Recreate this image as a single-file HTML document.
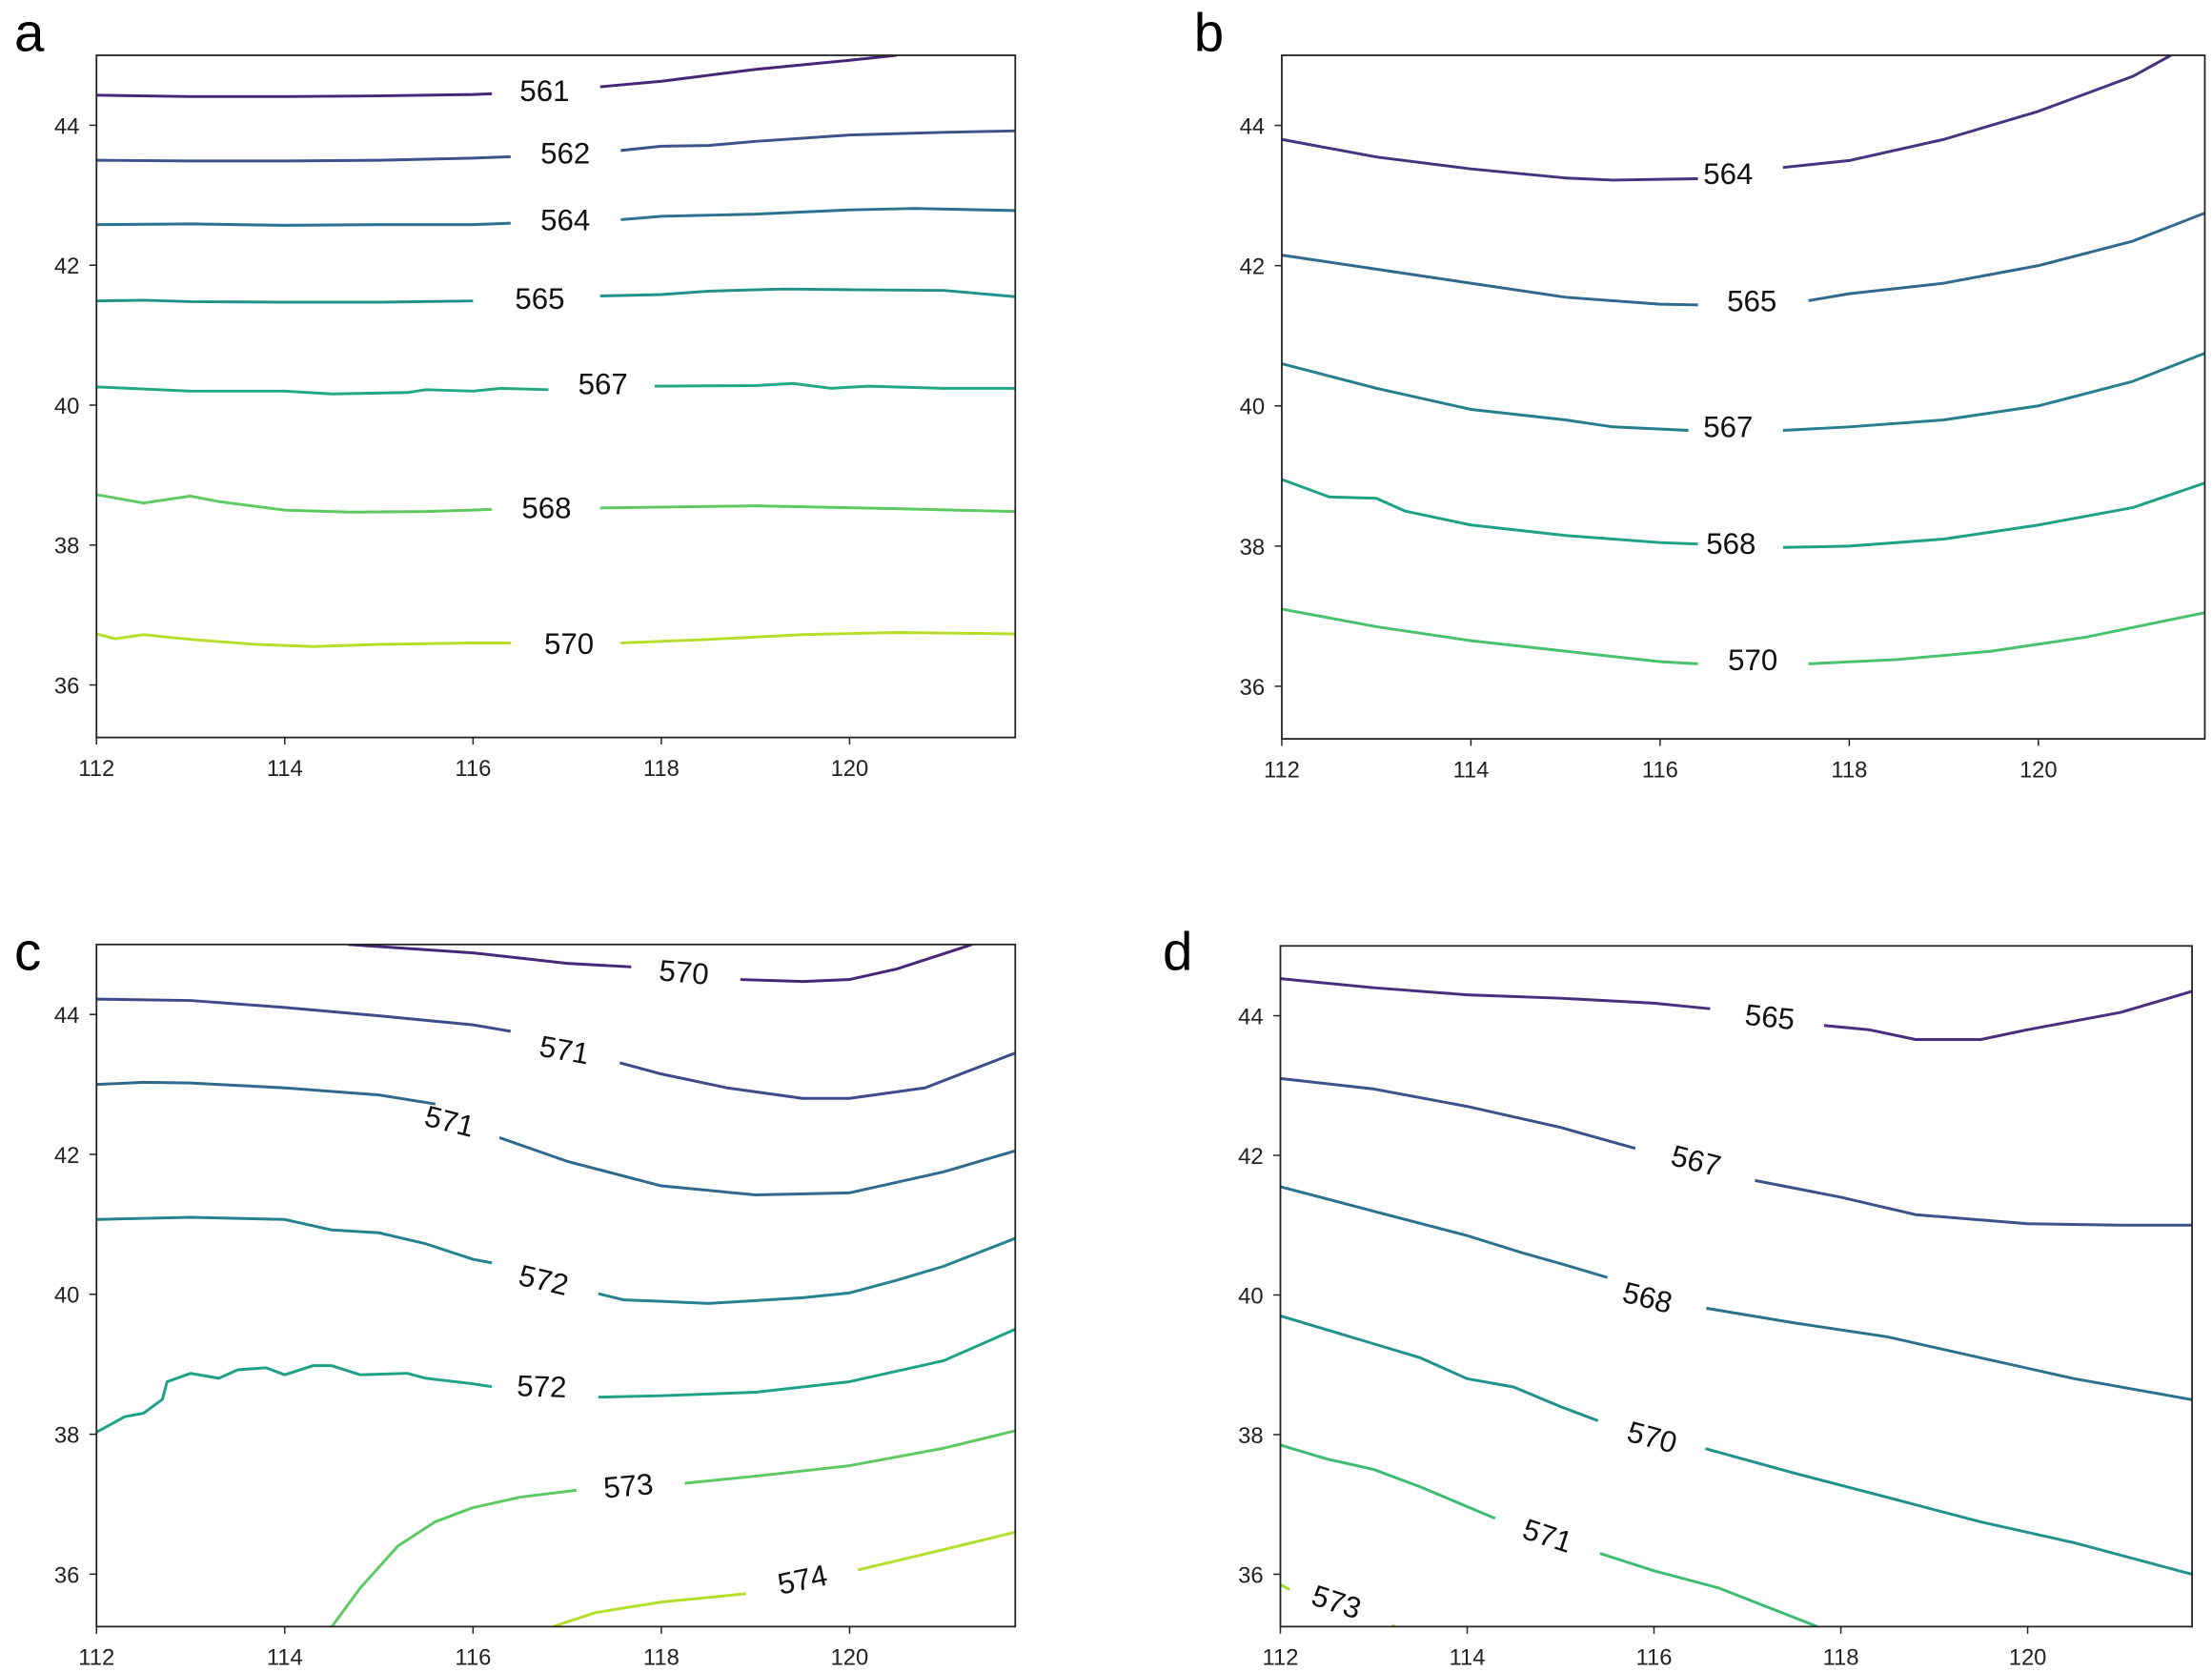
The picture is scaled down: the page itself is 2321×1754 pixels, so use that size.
<!DOCTYPE html>
<html><head><meta charset="utf-8"><style>
html,body{margin:0;padding:0;background:#fff;}
svg{display:block;}
text{font-family:"Liberation Sans","DejaVu Sans",sans-serif;}
</style></head><body>
<svg id="fig" width="2321" height="1754" viewBox="0 0 1560 1179" xmlns="http://www.w3.org/2000/svg"></svg>
<script>
// Data domain shared by all panels
const lonTicks = [112, 114, 116, 118, 120];
const latTicks = [36, 38, 40, 42, 44];
const lonRange = [112, 121.76];
const latRange = [35.25, 45];

const aLevels = [561, 562, 564, 565, 567, 568, 570];
const aLeft = [
 [[112,44.43],[113,44.41],[114,44.41],[115,44.42],[116,44.44],[116.2,44.45]],
 [[112,43.5],[113,43.49],[114,43.49],[115,43.5],[116,43.53],[116.4,43.55]],
 [[112,42.58],[113,42.59],[114,42.57],[115,42.58],[116,42.58],[116.4,42.6]],
 [[112,41.49],[112.5,41.5],[113,41.48],[114,41.47],[115,41.47],[116,41.49]],
 [[112,40.26],[113,40.2],[114,40.2],[114.5,40.16],[115.3,40.18],[115.5,40.22],[116,40.2],[116.3,40.24],[116.8,40.22]],
 [[112,38.72],[112.5,38.6],[113,38.7],[113.3,38.62],[114,38.5],[114.7,38.47],[115.5,38.48],[116.2,38.51]],
 [[112,36.73],[112.2,36.66],[112.5,36.72],[113,36.65],[113.7,36.58],[114.3,36.55],[115,36.58],[116,36.6],[116.4,36.6]]
];
const aRight = [
 [[117.35,44.55],[118,44.63],[119,44.8],[120,44.93],[120.5,45.0]],
 [[117.57,43.64],[118,43.7],[118.5,43.71],[119,43.77],[120,43.86],[121,43.9],[121.76,43.92]],
 [[117.57,42.65],[118,42.7],[119,42.73],[120,42.79],[120.7,42.81],[121.76,42.78]],
 [[117.35,41.56],[118,41.58],[118.5,41.63],[119.3,41.66],[120,41.65],[121,41.64],[121.76,41.55]],
 [[117.93,40.27],[119,40.28],[119.4,40.31],[119.8,40.24],[120.2,40.27],[121,40.24],[121.76,40.24]],
 [[117.35,38.53],[119,38.56],[120.5,38.52],[121.76,38.48]],
 [[117.57,36.6],[118.5,36.65],[119.5,36.72],[120.5,36.75],[121.76,36.73]]
];
const aLabels = [[116.76,44.49],[116.98,43.6],[116.98,42.64],[116.71,41.52],[117.38,40.3],[116.78,38.53],[117.02,36.59]];
const aAngles = [0,0,0,0,0,0,0];
const aColors = ["#482677","#3b528b","#2c728e","#21918c","#22a884","#5ec962","#b5de2b"];

const bLevels = [564, 565, 567, 568, 570];
const bLeft = [
 [[112,43.8],[113,43.55],[114,43.38],[115,43.25],[115.5,43.22],[116.4,43.24]],
 [[112,42.15],[113,41.95],[114,41.75],[115,41.55],[116,41.45],[116.4,41.44]],
 [[112,40.6],[113,40.25],[114,39.95],[115,39.8],[115.5,39.7],[116.3,39.65]],
 [[112,38.95],[112.5,38.7],[113,38.68],[113.3,38.5],[114,38.3],[115,38.15],[116,38.05],[116.4,38.03]],
 [[112,37.1],[113,36.85],[114,36.65],[115,36.5],[116,36.35],[116.4,36.32]]
];
const bRight = [
 [[117.3,43.4],[118,43.5],[119,43.8],[120,44.2],[121,44.7],[121.4,45.0]],
 [[117.57,41.5],[118,41.6],[119,41.75],[120,42.0],[121,42.35],[121.76,42.75]],
 [[117.3,39.65],[118,39.7],[119,39.8],[120,40.0],[121,40.35],[121.76,40.75]],
 [[117.3,37.98],[118,38.0],[119,38.1],[120,38.3],[121,38.55],[121.76,38.9]],
 [[117.57,36.32],[118.5,36.38],[119.5,36.5],[120.5,36.7],[121.76,37.05]]
];
const bLabels = [[116.72,43.31],[116.97,41.49],[116.72,39.7],[116.75,38.03],[116.98,36.37]];
const bAngles = [0,0,0,0,0];
const bColors = ["#46337f","#31688e","#277f8e","#1fa187","#4ac16d"];

const cLevels = [570, 571, 571, 572, 572, 573, 574];
const cLeft = [
 [[114.67,45],[116,44.88],[117,44.73],[117.68,44.68]],
 [[112,44.22],[113,44.2],[114,44.1],[115,43.98],[116,43.85],[116.4,43.76]],
 [[112,43.0],[112.5,43.03],[113,43.02],[114,42.95],[115,42.85],[115.6,42.72]],
 [[112,41.07],[113,41.1],[114,41.07],[114.5,40.92],[115,40.88],[115.5,40.72],[116,40.5],[116.2,40.45]],
 [[112,38.03],[112.3,38.25],[112.5,38.3],[112.7,38.5],[112.75,38.75],[113,38.87],[113.3,38.8],[113.5,38.92],[113.8,38.95],[114,38.85],[114.3,38.98],[114.5,38.98],[114.8,38.85],[115.3,38.87],[115.5,38.8],[116,38.72],[116.2,38.68]],
 [[114.5,35.25],[114.8,35.8],[115.2,36.4],[115.6,36.75],[116,36.95],[116.5,37.1],[117.1,37.2]],
 [[116.85,35.25],[117.3,35.45],[118,35.6],[118.9,35.72]]
];
const cRight = [
 [[118.84,44.5],[119.5,44.47],[120,44.5],[120.5,44.65],[121.3,45.0]],
 [[117.56,43.31],[118,43.15],[118.7,42.95],[119.5,42.8],[120,42.8],[120.8,42.95],[121.76,43.45]],
 [[116.28,42.24],[117,41.9],[118,41.55],[119,41.42],[120,41.45],[121,41.75],[121.76,42.05]],
 [[117.33,40.01],[117.6,39.92],[118,39.9],[118.5,39.87],[119.5,39.95],[120,40.02],[120.5,40.2],[121,40.4],[121.76,40.8]],
 [[117.33,38.53],[118,38.55],[119,38.6],[120,38.75],[121,39.05],[121.76,39.5]],
 [[118.25,37.3],[119,37.4],[120,37.55],[121,37.8],[121.76,38.05]],
 [[120.09,36.06],[121,36.35],[121.76,36.6]]
];
const cLabels = [[118.24,44.6],[116.97,43.49],[115.75,42.47],[116.75,40.2],[116.73,38.68],[117.65,37.26],[119.5,35.92]];
const cAngles = [5,10,14,13,2,-5,-12];
const cColors = ["#482677","#3e4a89","#31688e","#26828e","#1fa187","#5ec962","#b5de2b"];

const dLevels = [565, 567, 568, 570, 571, 573];
const dLeft = [
 [[112,44.53],[113,44.4],[114,44.3],[115,44.25],[116,44.18],[116.6,44.1]],
 [[112,43.1],[113,42.95],[114,42.7],[115,42.4],[115.8,42.1]],
 [[112,41.55],[113,41.2],[114,40.85],[114.6,40.6],[115,40.45],[115.5,40.25]],
 [[112,39.7],[113,39.3],[113.5,39.1],[114,38.8],[114.5,38.68],[115,38.4],[115.4,38.2]],
 [[112,37.85],[112.5,37.65],[113,37.5],[113.5,37.25],[114.3,36.8]],
 [[112,35.85],[112.1,35.78]]
];
const dRight = [
 [[117.82,43.86],[118.3,43.8],[118.8,43.66],[119.5,43.66],[120,43.8],[121,44.05],[121.76,44.35]],
 [[117.08,41.64],[118,41.4],[118.8,41.15],[120,41.02],[121,41.0],[121.76,41.0]],
 [[116.56,39.81],[117.5,39.6],[118.5,39.4],[119.5,39.1],[120.5,38.8],[121.76,38.5]],
 [[116.55,37.8],[117.5,37.45],[118.5,37.1],[119.5,36.75],[120.5,36.45],[121.76,36.0]],
 [[115.42,36.3],[116,36.05],[116.7,35.8],[117.75,35.25]],
 [[113.2,35.28],[113.22,35.25]]
];
const dLabels = [[117.24,43.98],[116.45,41.92],[115.93,39.96],[115.98,37.96],[114.86,36.55],[112.6,35.6]];
const dAngles = [6,14,14,15,18,18];
const dColors = ["#472f7d","#3b528b","#2c728e","#21918c","#3fbc73","#a0da39"];

const panels = [
 {id:"a", letter:[10,36], box:[68,39,716,520], levels:aLevels, left:aLeft, right:aRight, labels:aLabels, angles:aAngles, colors:aColors},
 {id:"b", letter:[842,36], box:[904,39,1555,521], levels:bLevels, left:bLeft, right:bRight, labels:bLabels, angles:bAngles, colors:bColors},
 {id:"c", letter:[10,684], box:[68,666,716,1147], levels:cLevels, left:cLeft, right:cRight, labels:cLabels, angles:cAngles, colors:cColors},
 {id:"d", letter:[820,684], box:[903,667,1546,1147], levels:dLevels, left:dLeft, right:dRight, labels:dLabels, angles:dAngles, colors:dColors}
];
const NS = "http://www.w3.org/2000/svg";
const svg = document.getElementById("fig");
function mk(tag, attrs, parent){
  const e = document.createElementNS(NS, tag);
  for (const k in attrs) e.setAttribute(k, attrs[k]);
  parent.appendChild(e);
  return e;
}
panels.forEach(p => {
  const [x0,y0,x1,y1] = p.box;
  const sx = v => x0 + (v - lonRange[0]) / (lonRange[1]-lonRange[0]) * (x1-x0);
  const sy = v => y1 - (v - latRange[0]) / (latRange[1]-latRange[0]) * (y1-y0);
  const g = mk("g", {}, svg);
  
  
  const lt = mk("text", {x:p.letter[0], y:p.letter[1], "font-size":38, fill:"#000"}, g);
  lt.textContent = p.id;
  
  
  const clip = mk("clipPath", {id:"clip"+p.id}, g);
  mk("rect", {x:x0, y:y0, width:x1-x0, height:y1-y0}, clip);
  const lines = mk("g", {"clip-path":"url(#clip"+p.id+")"}, g);
  
  
  p.levels.forEach((lev, i) => {
    [p.left[i], p.right[i]].forEach((seg, k) => {
      const pts = seg.map(q => sx(q[0]).toFixed(1)+","+sy(q[1]).toFixed(1)).join(" ");
      const pl = mk("polyline", {points:pts, fill:"none", stroke:p.colors[i], "stroke-width":2, "stroke-linejoin":"round"}, lines);
      
      
    });
    const lx = sx(p.labels[i][0]), ly = sy(p.labels[i][1]);
    const t = mk("text", {x:lx, y:ly, "font-size":21, fill:"#111", "text-anchor":"middle", "dominant-baseline":"central",
      transform:"rotate("+p.angles[i]+" "+lx+" "+ly+")"}, g);
    t.textContent = lev;
    
    
  });
  const fr = mk("rect", {x:x0, y:y0, width:x1-x0, height:y1-y0, fill:"none", stroke:"#222", "stroke-width":1.2}, g);
  
  
  lonTicks.forEach(v => {
    const x = sx(v);
    const tk = mk("line", {x1:x, x2:x, y1:y1, y2:y1+5, stroke:"#222", "stroke-width":1}, g);
    
    
    const tt = mk("text", {x:x, y:y1+27, "font-size":16, fill:"#222", "text-anchor":"middle"}, g);
    tt.textContent = v;
    
    
  });
  latTicks.forEach(v => {
    const y = sy(v);
    const tk = mk("line", {x1:x0-5, x2:x0, y1:y, y2:y, stroke:"#222", "stroke-width":1}, g);
    
    
    const tt = mk("text", {x:x0-12, y:y+6, "font-size":16, fill:"#222", "text-anchor":"end"}, g);
    tt.textContent = v;
    
    
  });
});
</script>
</body></html>
